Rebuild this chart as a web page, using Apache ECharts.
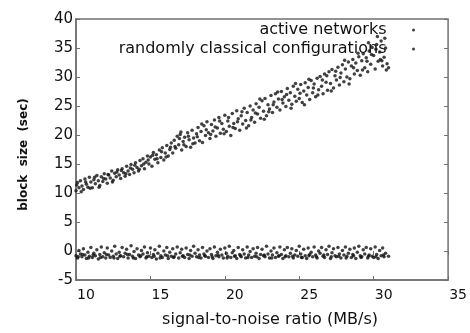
<!DOCTYPE html>
<html>
<head>
<meta charset="utf-8">
<script src="https://cdn.jsdelivr.net/npm/echarts@6/dist/echarts.min.js"></script>
<style>
    html, body { margin: 0; padding: 0; background: #fff; }
    #chart { width: 470px; height: 333px; }
</style>
</head>
<body>
<div id="chart"></div>
<script>
    // axis ticks
    var xTicks = [10, 15, 20, 25, 30, 35]
    var yTicks = [-5, 0, 5, 10, 15, 20, 25, 30, 35, 40]

    // "active networks" - the rising band
    var activeNetworks = [
        [10.0,10.4],[10.1,11.8],[10.2,10.9],[10.3,12.1],[10.4,11.2],[10.5,10.6],[10.6,12.4],[10.7,11.5],[10.8,11.0],[10.9,12.7],
        [11.0,11.9],[11.1,10.9],[11.2,12.3],[11.3,11.6],[11.4,13.0],[11.5,12.1],[11.6,11.3],[11.7,12.8],[11.8,12.0],[11.9,13.3],
        [12.0,12.4],[12.1,11.7],[12.2,13.1],[12.3,12.6],[12.4,13.8],[12.5,12.2],[12.6,13.4],[12.7,12.8],[12.8,14.0],[12.9,13.1],
        [13.0,12.5],[13.1,14.2],[13.2,13.5],[13.3,12.9],[13.4,14.6],[13.5,13.8],[13.6,13.2],[13.7,14.9],[13.8,14.1],[13.9,13.5],
        [14.0,15.2],[14.1,14.4],[14.2,13.8],[14.3,15.6],[14.4,14.7],[14.5,15.9],[14.6,14.2],[14.7,15.3],[14.8,16.4],[14.9,15.0],
        [15.0,16.2],[15.1,14.6],[15.2,17.0],[15.3,15.8],[15.4,16.6],[15.5,15.2],[15.6,17.4],[15.7,16.1],[15.8,17.8],[15.9,15.7],
        [16.0,16.9],[16.1,18.2],[16.2,16.4],[16.3,17.5],[16.4,18.6],[16.5,16.9],[16.6,19.1],[16.7,17.7],[16.8,19.8],[16.9,18.3],
        [17.0,20.1],[17.1,17.4],[17.2,18.9],[17.3,19.6],[17.4,18.0],[17.5,20.4],[17.6,19.2],[17.7,17.9],[17.8,20.8],[17.9,19.5],
        [18.0,18.6],[18.1,20.2],[18.2,21.3],[18.3,19.0],[18.4,20.6],[18.5,18.7],[18.6,21.6],[18.7,19.9],[18.8,22.3],[18.9,20.4],
        [19.0,19.4],[19.1,21.8],[19.2,20.7],[19.3,22.6],[19.4,19.8],[19.5,21.2],[19.6,23.0],[19.7,20.3],[19.8,22.0],[19.9,21.0],
        [20.0,23.4],[20.1,20.6],[20.2,22.4],[20.3,21.5],[20.4,19.9],[20.5,23.7],[20.6,22.0],[20.7,21.1],[20.8,24.2],[20.9,22.8],
        [21.0,20.8],[21.1,23.3],[21.2,21.9],[21.3,24.6],[21.4,22.5],[21.5,23.9],[21.6,21.6],[21.7,25.0],[21.8,23.0],[21.9,24.3],
        [22.0,22.2],[22.1,25.4],[22.2,23.6],[22.3,24.8],[22.4,22.9],[22.5,25.9],[22.6,24.1],[22.7,26.3],[22.8,23.3],[22.9,25.2],
        [23.0,24.5],[23.1,26.8],[23.2,23.9],[23.3,25.7],[23.4,27.1],[23.5,24.8],[23.6,26.2],[23.7,24.3],[23.8,27.5],[23.9,25.5],
        [24.0,26.6],[24.1,24.9],[24.2,28.0],[24.3,26.0],[24.4,27.3],[24.5,25.3],[24.6,28.4],[24.7,26.7],[24.8,25.8],[24.9,27.9],
        [25.0,26.3],[25.1,28.7],[25.2,25.6],[25.3,27.6],[25.4,29.0],[25.5,26.9],[25.6,28.2],[25.7,26.1],[25.8,29.4],[25.9,27.3],
        [26.0,28.8],[26.1,26.6],[26.2,29.8],[26.3,27.8],[26.4,30.1],[26.5,28.4],[26.6,27.1],[26.7,30.5],[26.8,29.1],[26.9,27.7],
        [27.0,30.9],[27.1,28.9],[27.2,31.3],[27.3,28.1],[27.4,30.2],[27.5,29.5],[27.6,31.7],[27.7,28.6],[27.8,30.7],[27.9,32.1],
        [28.0,29.2],[28.1,31.4],[28.2,30.0],[28.3,32.6],[28.4,29.7],[28.5,31.9],[28.6,33.0],[28.7,30.5],[28.8,32.4],[28.9,31.1],
        [29.0,33.5],[29.1,30.3],[29.2,32.8],[29.3,34.0],[29.4,31.6],[29.5,33.3],[29.6,30.9],[29.7,34.5],[29.8,32.2],[29.9,35.1],
        [30.0,33.7],[30.1,31.4],[30.2,35.6],[30.3,32.7],[30.4,34.3],[30.5,36.2],[30.6,31.9],[30.7,33.4],[30.8,35.0],[30.9,32.3],
        [31.0,31.6],
        [10.05,11.4],[10.35,10.2],[10.65,11.9],[10.95,10.8],[11.25,12.7],[11.55,11.0],[11.85,12.5],[12.15,13.2],[12.45,11.9],[12.75,13.6],
        [13.05,13.9],[13.35,13.3],[13.65,14.3],[13.95,14.8],[14.25,14.1],[14.55,15.0],[14.85,15.7],[15.15,16.5],[15.45,15.9],[15.75,17.1],
        [16.05,16.2],[16.35,17.9],[16.65,18.0],[16.95,19.4],[17.05,20.5],[17.25,18.3],[17.55,19.8],[17.85,18.5],[18.15,19.7],[18.45,21.9],
        [18.75,20.9],[19.05,20.1],[19.35,21.4],[19.65,22.4],[19.95,20.2],[20.25,23.0],[20.55,21.3],[20.85,22.3],[21.15,24.0],[21.45,21.2],
        [21.75,22.6],[22.05,23.8],[22.35,26.2],[22.65,22.7],[22.95,24.0],[23.25,25.2],[23.55,27.4],[23.85,26.1],[24.15,27.0],[24.45,24.6],
        [24.75,28.9],[25.05,27.2],[25.35,25.2],[25.65,29.6],[25.95,28.1],[26.25,26.9],[26.55,29.5],[26.85,30.2],[27.15,27.6],[27.45,31.0],
        [27.75,29.9],[28.05,32.9],[28.35,28.8],[28.65,31.6],[28.95,34.1],[29.25,31.2],[29.55,32.7],[29.85,33.9],[30.15,34.8],[30.45,33.0],
        [30.75,36.7],[30.85,31.2],[29.65,35.9],[30.25,37.0],[30.55,32.8]
    ]

    // "randomly classical configurations" - the flat band near zero
    var classicalConfigs = [
        [10.0,-0.8],[10.1,-1.2],[10.2,0.1],[10.3,-0.5],[10.4,-1.0],[10.5,0.4],[10.6,-0.7],[10.7,-1.3],[10.8,-0.2],[10.9,-0.9],
        [11.0,0.6],[11.1,-1.1],[11.2,-0.4],[11.3,-0.8],[11.4,0.2],[11.5,-1.4],[11.6,-0.6],[11.7,0.7],[11.8,-1.0],[11.9,-0.3],
        [12.0,-1.2],[12.1,0.5],[12.2,-0.7],[12.3,-1.1],[12.4,0.0],[12.5,-0.9],[12.6,0.8],[12.7,-0.5],[12.8,-1.3],[12.9,-0.2],
        [13.0,-0.8],[13.1,0.6],[13.2,-1.0],[13.3,-0.4],[13.4,0.3],[13.5,-1.2],[13.6,-0.6],[13.7,0.9],[13.8,-0.9],[13.9,-0.1],
        [14.0,-1.3],[14.1,0.4],[14.2,-0.7],[14.3,-1.0],[14.4,0.1],[14.5,-0.5],[14.6,0.7],[14.7,-1.2],[14.8,-0.3],[14.9,-0.9],
        [15.0,0.5],[15.1,-1.1],[15.2,-0.6],[15.3,0.2],[15.4,-1.4],[15.5,-0.4],[15.6,0.8],[15.7,-0.8],[15.8,-1.1],[15.9,0.0],
        [16.0,-0.7],[16.1,0.6],[16.2,-1.3],[16.3,-0.2],[16.4,-0.9],[16.5,0.4],[16.6,-1.0],[16.7,-0.5],[16.8,0.7],[16.9,-1.2],
        [17.0,-0.3],[17.1,0.3],[17.2,-0.8],[17.3,-1.1],[17.4,0.5],[17.5,-0.6],[17.6,-1.3],[17.7,0.1],[17.8,-0.9],[17.9,0.8],
        [18.0,-0.4],[18.1,-1.0],[18.2,0.2],[18.3,-0.7],[18.4,-1.2],[18.5,0.6],[18.6,-0.5],[18.7,-0.9],[18.8,0.0],[18.9,-1.1],
        [19.0,0.4],[19.1,-0.6],[19.2,-1.3],[19.3,0.7],[19.4,-0.8],[19.5,-0.2],[19.6,-1.0],[19.7,0.3],[19.8,-0.7],[19.9,-1.2],
        [20.0,0.5],[20.1,-0.4],[20.2,-0.9],[20.3,0.8],[20.4,-1.1],[20.5,-0.3],[20.6,0.1],[20.7,-0.8],[20.8,-1.3],[20.9,0.6],
        [21.0,-0.6],[21.1,-1.0],[21.2,0.2],[21.3,-0.5],[21.4,-1.2],[21.5,0.7],[21.6,-0.7],[21.7,-0.1],[21.8,-1.1],[21.9,0.4],
        [22.0,-0.9],[22.1,-0.4],[22.2,0.6],[22.3,-1.3],[22.4,-0.6],[22.5,0.3],[22.6,-0.8],[22.7,-1.0],[22.8,0.8],[22.9,-0.5],
        [23.0,-1.2],[23.1,0.0],[23.2,-0.7],[23.3,0.5],[23.4,-1.1],[23.5,-0.3],[23.6,-0.9],[23.7,0.7],[23.8,-0.6],[23.9,-1.3],
        [24.0,0.2],[24.1,-0.8],[24.2,0.6],[24.3,-1.0],[24.4,-0.4],[24.5,0.4],[24.6,-1.2],[24.7,-0.7],[24.8,0.1],[24.9,-0.9],
        [25.0,0.8],[25.1,-0.5],[25.2,-1.1],[25.3,0.3],[25.4,-0.8],[25.5,-1.3],[25.6,0.5],[25.7,-0.6],[25.8,-0.2],[25.9,-1.0],
        [26.0,0.7],[26.1,-0.7],[26.2,-1.2],[26.3,0.0],[26.4,-0.4],[26.5,0.6],[26.6,-0.9],[26.7,-1.1],[26.8,0.2],[26.9,-0.6],
        [27.0,0.8],[27.1,-1.3],[27.2,-0.3],[27.3,0.4],[27.4,-0.8],[27.5,-1.0],[27.6,0.6],[27.7,-0.5],[27.8,-1.2],[27.9,0.1],
        [28.0,-0.7],[28.1,0.7],[28.2,-0.9],[28.3,-0.4],[28.4,0.3],[28.5,-1.1],[28.6,-0.6],[28.7,0.5],[28.8,-1.3],[28.9,-0.2],
        [29.0,0.8],[29.1,-0.8],[29.2,-1.0],[29.3,0.2],[29.4,-0.5],[29.5,0.6],[29.6,-1.2],[29.7,-0.7],[29.8,0.4],[29.9,-0.9],
        [30.0,-1.1],[30.1,0.7],[30.2,-0.6],[30.3,-1.3],[30.4,0.1],[30.5,-0.8],[30.6,0.5],[30.7,-1.0],[30.8,-0.4],
        [10.15,-1.0],[10.45,-0.6],[10.85,-1.2],[11.15,-0.7],[11.65,-1.1],[12.05,-0.6],[12.55,-1.2],[12.95,-0.9],[13.45,-0.6],[13.85,-1.2],
        [14.35,-0.8],[14.75,-1.0],[15.25,-0.9],[15.65,-1.2],[16.15,-0.8],[16.55,-1.1],[17.15,-0.9],[17.65,-0.7],[18.25,-1.1],[18.65,-0.8],
        [19.15,-1.0],[19.55,-0.7],[20.15,-1.2],[20.65,-0.9],[21.05,-0.8],[21.55,-1.1],[22.15,-1.0],[22.65,-0.7],[23.15,-1.2],[23.65,-0.8],
        [24.05,-1.0],[24.55,-0.9],[25.15,-1.1],[25.65,-0.8],[26.15,-1.0],[26.65,-0.7],[27.15,-1.0],[27.65,-0.9],[28.15,-1.2],[28.65,-0.8],
        [29.15,-1.1],[29.65,-0.9],[30.15,-1.0],[30.65,-0.7],[31.0,-0.9]
    ]

    var seriesNames = ['active networks', 'randomly classical configurations']

    // the source text is wide and heavy, DejaVu Sans matches its widths best
    var font = '"DejaVu Sans", Verdana, sans-serif'
    var frameColor = '#707070'
    var textColor = '#111'

    var myChart = echarts.init(document.getElementById('chart'))

    // mirror axes (top/right) only carry the inward ticks of the box
    var mirrorTick = { show: true, inside: true, length: 4, lineStyle: { color: frameColor } }

    var option = {
        animation: false,
        backgroundColor: '#fff',
        textStyle: { fontFamily: font },
        grid: {
            left: 76, right: 15, top: 19, bottom: 52,
            show: true,
            borderColor: frameColor,
            borderWidth: 1.5
        },
        legend: {
            orient: 'vertical',
            align: 'right',
            right: 50,
            top: 17,
            itemGap: 3,
            itemWidth: 44,
            itemHeight: 3,
            icon: 'circle',
            textStyle: { fontSize: 16, color: textColor, fontFamily: font },
            data: seriesNames
        },
        xAxis: [{
            type: 'value',
            min: xTicks[0],
            max: xTicks[xTicks.length - 1],
            interval: 5,
            name: 'signal-to-noise ratio (MB/s)',
            nameLocation: 'middle',
            nameGap: 32,
            nameTextStyle: { fontSize: 16, color: textColor, padding: [0, 0, 0, 16] },
            axisLine: { show: true, onZero: false, lineStyle: { color: frameColor, width: 1.5 } },
            axisTick: mirrorTick,
            axisLabel: {
                fontSize: 14, color: textColor, margin: 8,
                padding: [0, 0, 0, 20],
                showMinLabel: true, showMaxLabel: true
            },
            splitLine: { show: false }
        }, {
            type: 'value',
            position: 'top',
            min: xTicks[0],
            max: xTicks[xTicks.length - 1],
            interval: 5,
            axisLine: { show: false },
            axisTick: mirrorTick,
            axisLabel: { show: false },
            splitLine: { show: false }
        }],
        yAxis: [{
            type: 'value',
            min: yTicks[0],
            max: yTicks[yTicks.length - 1],
            interval: 5,
            name: 'block  size  (sec)',
            nameLocation: 'middle',
            nameGap: 46,
            nameTextStyle: { fontSize: 12, fontWeight: 'bold', color: textColor, padding: [0, 10, 0, 0] },
            axisLine: { show: true, onZero: false, lineStyle: { color: frameColor, width: 1.5 } },
            axisTick: mirrorTick,
            axisLabel: {
                fontSize: 15, color: textColor, margin: 3,
                padding: [0, 0, 4, 0]
            },
            splitLine: { show: false }
        }, {
            type: 'value',
            position: 'right',
            min: yTicks[0],
            max: yTicks[yTicks.length - 1],
            interval: 5,
            axisLine: { show: false },
            axisTick: mirrorTick,
            axisLabel: { show: false },
            splitLine: { show: false }
        }],
        series: [{
            name: seriesNames[0],
            type: 'scatter',
            symbol: 'circle',
            symbolSize: 3.5,
            itemStyle: { color: '#111', opacity: 0.8 },
            data: activeNetworks
        }, {
            name: seriesNames[1],
            type: 'scatter',
            symbol: 'circle',
            symbolSize: 3.5,
            itemStyle: { color: '#111', opacity: 0.8 },
            data: classicalConfigs
        }]
    }

    myChart.setOption(option)
    window.addEventListener('resize', myChart.resize)
</script>
</body>
</html>
